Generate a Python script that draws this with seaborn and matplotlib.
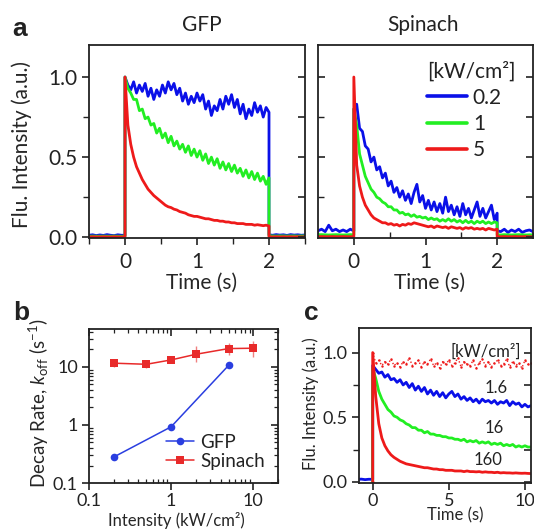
import numpy as np
import pandas as pd
import matplotlib
matplotlib.use("Agg")
import matplotlib.pyplot as plt
import seaborn as sns
from matplotlib.lines import Line2D
from matplotlib.ticker import MultipleLocator, FixedLocator, NullFormatter, LogLocator, FuncFormatter

# ---------------- data: panel a (time traces, s) ----------------
time_pre_a = np.round(np.arange(-0.5, 0.001, 0.05), 2)     # 11 pts, laser off
time_on_a = np.round(np.arange(0.0, 2.001, 0.04), 2)       # 51 pts, laser on
time_post_a = np.round(np.arange(2.0, 2.501, 0.05), 2)     # 11 pts, laser off
intensity_labels_a = ["0.2", "1", "5"]

gfp_pre = {
    "0.2": [0.012, 0.015, 0.010, 0.014, 0.011, 0.016, 0.012, 0.010, 0.015, 0.012, 0.012],
    "1":   [0.006, 0.007, 0.006, 0.006, 0.007, 0.006, 0.006, 0.007, 0.006, 0.006, 0.006],
    "5":   [0.002, 0.003, 0.002, 0.002, 0.003, 0.002, 0.002, 0.003, 0.002, 0.002, 0.002],
}
gfp_on = {
    "0.2": [1.00, 0.95, 0.92, 0.97, 0.90, 0.95, 0.91, 0.96, 0.88, 0.93,
            0.86, 0.92, 0.88, 0.95, 0.90, 0.97, 0.92, 0.96, 0.89, 0.93,
            0.85, 0.90, 0.83, 0.88, 0.84, 0.90, 0.85, 0.89, 0.80, 0.85,
            0.76, 0.82, 0.79, 0.86, 0.80, 0.88, 0.83, 0.89, 0.81, 0.86,
            0.77, 0.83, 0.74, 0.80, 0.76, 0.84, 0.78, 0.82, 0.75, 0.81,
            0.78],
    "1":   [1.00, 0.93, 0.90, 0.86, 0.86, 0.79, 0.80, 0.74, 0.75, 0.70,
            0.71, 0.65, 0.68, 0.62, 0.65, 0.59, 0.63, 0.57, 0.60, 0.55,
            0.58, 0.53, 0.57, 0.51, 0.55, 0.50, 0.54, 0.48, 0.52, 0.46,
            0.50, 0.45, 0.49, 0.43, 0.47, 0.42, 0.46, 0.41, 0.45, 0.40,
            0.43, 0.38, 0.42, 0.37, 0.41, 0.36, 0.40, 0.35, 0.38, 0.33,
            0.37],
    "5":   [1.00, 0.70, 0.58, 0.50, 0.44, 0.40, 0.36, 0.33, 0.30, 0.28,
            0.26, 0.245, 0.23, 0.215, 0.20, 0.19, 0.185, 0.175, 0.17, 0.16,
            0.155, 0.15, 0.14, 0.135, 0.13, 0.13, 0.125, 0.12, 0.115, 0.115,
            0.11, 0.105, 0.105, 0.10, 0.10, 0.095, 0.095, 0.09, 0.09, 0.085,
            0.085, 0.085, 0.08, 0.08, 0.08, 0.075, 0.078, 0.075, 0.072, 0.075,
            0.07],
}
gfp_post = {
    "0.2": [0.015, 0.012, 0.016, 0.013, 0.015, 0.011, 0.016, 0.013, 0.015, 0.012, 0.014],
    "1":   [0.008, 0.008, 0.007, 0.008, 0.008, 0.007, 0.008, 0.008, 0.007, 0.008, 0.008],
    "5":   [0.003, 0.002, 0.003, 0.002, 0.003, 0.002, 0.003, 0.002, 0.003, 0.002, 0.003],
}

spinach_pre = {
    "0.2": [0.040, 0.050, 0.035, 0.075, 0.040, 0.050, 0.035, 0.045, 0.035, 0.050, 0.040],
    "1":   [0.015, 0.016, 0.015, 0.014, 0.015, 0.016, 0.015, 0.014, 0.015, 0.016, 0.015],
    "5":   [0.003, 0.004, 0.003, 0.003, 0.004, 0.003, 0.003, 0.004, 0.003, 0.003, 0.003],
}
spinach_on = {
    "0.2": [0.80, 0.83, 0.68, 0.66, 0.57, 0.55, 0.47, 0.50, 0.42, 0.44,
            0.37, 0.40, 0.32, 0.35, 0.28, 0.31, 0.25, 0.29, 0.23, 0.27,
            0.21, 0.28, 0.33, 0.22, 0.26, 0.18, 0.23, 0.17, 0.22, 0.16,
            0.21, 0.15, 0.25, 0.16, 0.20, 0.14, 0.19, 0.13, 0.21, 0.14,
            0.18, 0.12, 0.17, 0.22, 0.13, 0.18, 0.12, 0.16, 0.20, 0.11,
            0.15],
    "1":   [0.80, 0.70, 0.52, 0.45, 0.38, 0.34, 0.30, 0.28, 0.25, 0.24,
            0.22, 0.21, 0.19, 0.19, 0.17, 0.17, 0.15, 0.155, 0.14, 0.145,
            0.13, 0.14, 0.125, 0.13, 0.12, 0.125, 0.11, 0.12, 0.11, 0.115,
            0.10, 0.11, 0.10, 0.115, 0.10, 0.11, 0.095, 0.105, 0.09, 0.105,
            0.09, 0.10, 0.085, 0.10, 0.09, 0.10, 0.085, 0.095, 0.085, 0.095,
            0.09],
    "5":   [1.00, 0.45, 0.32, 0.25, 0.20, 0.17, 0.14, 0.12, 0.11, 0.10,
            0.09, 0.09, 0.08, 0.085, 0.075, 0.08, 0.07, 0.08, 0.075, 0.085,
            0.08, 0.09, 0.085, 0.08, 0.075, 0.07, 0.065, 0.07, 0.06, 0.07,
            0.065, 0.06, 0.065, 0.055, 0.065, 0.06, 0.055, 0.06, 0.05, 0.06,
            0.055, 0.06, 0.05, 0.055, 0.05, 0.055, 0.045, 0.055, 0.05, 0.045,
            0.05],
}
spinach_post = {
    "0.2": [0.040, 0.035, 0.050, 0.030, 0.045, 0.035, 0.050, 0.030, 0.040, 0.045, 0.035],
    "1":   [0.015, 0.014, 0.016, 0.015, 0.014, 0.015, 0.016, 0.015, 0.014, 0.015, 0.015],
    "5":   [0.003, 0.003, 0.004, 0.003, 0.003, 0.004, 0.003, 0.003, 0.004, 0.003, 0.003],
}

# ---------------- data: panel b (decay rates) ----------------
intensity_gfp = [0.2, 1, 5]
rate_gfp = [0.28, 0.93, 10.6]
intensity_spinach = [0.2, 0.5, 1, 2, 5, 10]
rate_spinach = [11.6, 11.1, 13.2, 16.5, 20.7, 21.0]
rate_spinach_err_lo = [1.8, 1.5, 1.2, 4.5, 4.7, 6.0]
rate_spinach_err_hi = [2.0, 1.6, 1.3, 6.0, 5.5, 7.0]

# ---------------- data: panel c (Spinach, long illumination) ----------------
time_pre_c = [-1.0, -0.75, -0.5, -0.25, 0.0]
pre_c_blue = [0.020, 0.022, 0.018, 0.021, 0.020]
time_on_c = np.round(np.arange(0.0, 10.41, 0.2), 1)        # 53 pts
labels_c = ["dark", "1.6", "16", "160"]
trace_c = {
    "dark": [1.00, 0.92, 0.94, 0.90, 0.93, 0.91, 0.95, 0.90, 0.92, 0.89,
             0.93, 0.91, 0.96, 0.90, 0.92, 0.94, 0.89, 0.93, 0.91, 0.95,
             0.90, 0.92, 0.88, 0.93, 0.91, 0.94, 0.90, 0.92, 0.96, 0.89,
             0.93, 0.91, 0.90, 0.94, 0.88, 0.92, 0.95, 0.90, 0.93, 0.89,
             0.92, 0.94, 0.90, 0.91, 0.95, 0.89, 0.93, 0.90, 0.92, 0.88,
             0.94, 0.91, 0.92],
    "1.6":  [0.90, 0.87, 0.84, 0.85, 0.81, 0.83, 0.79, 0.80, 0.77, 0.79,
             0.75, 0.77, 0.73, 0.76, 0.71, 0.74, 0.70, 0.73, 0.68, 0.71,
             0.67, 0.70, 0.66, 0.69, 0.65, 0.68, 0.70, 0.66, 0.68, 0.64,
             0.66, 0.63, 0.65, 0.62, 0.64, 0.61, 0.64, 0.62, 0.63, 0.61,
             0.63, 0.60, 0.62, 0.61, 0.63, 0.59, 0.62, 0.60, 0.61, 0.58,
             0.60, 0.58, 0.59],
    "16":   [0.88, 0.80, 0.70, 0.64, 0.60, 0.56, 0.54, 0.51, 0.50, 0.48,
             0.47, 0.45, 0.44, 0.42, 0.42, 0.40, 0.40, 0.38, 0.39, 0.37,
             0.37, 0.36, 0.36, 0.35, 0.35, 0.34, 0.34, 0.33, 0.33, 0.32,
             0.33, 0.31, 0.32, 0.31, 0.32, 0.30, 0.31, 0.30, 0.31, 0.29,
             0.30, 0.29, 0.30, 0.28, 0.29, 0.28, 0.29, 0.27, 0.28, 0.27,
             0.28, 0.27, 0.27],
    "160":  [1.00, 0.66, 0.45, 0.34, 0.28, 0.24, 0.21, 0.19, 0.175, 0.16,
             0.15, 0.14, 0.135, 0.13, 0.125, 0.12, 0.115, 0.11, 0.11, 0.105,
             0.10, 0.10, 0.095, 0.095, 0.09, 0.09, 0.09, 0.085, 0.085, 0.085,
             0.08, 0.085, 0.08, 0.08, 0.078, 0.08, 0.075, 0.078, 0.075, 0.075,
             0.072, 0.075, 0.07, 0.072, 0.07, 0.07, 0.068, 0.07, 0.068, 0.067,
             0.068, 0.066, 0.065],
}

# ---------------- styling ----------------
BLUE = "#0a10e8"
GREEN = "#22ee22"
RED = "#ee1a1a"
colors_a = {"0.2": BLUE, "1": GREEN, "5": RED}

sns.set_theme(style="ticks")
plt.rcParams["font.family"] = ["Lato", "DejaVu Sans"]
plt.rcParams["mathtext.fontset"] = "custom"
plt.rcParams["mathtext.rm"] = "Lato"
plt.rcParams["mathtext.it"] = "Lato:italic"
plt.rcParams["mathtext.bf"] = "Lato:bold"
plt.rcParams["axes.linewidth"] = 1.3
plt.rcParams["axes.edgecolor"] = "#222222"
plt.rcParams["text.color"] = "#222222"
plt.rcParams["xtick.color"] = "#222222"
plt.rcParams["ytick.color"] = "#222222"

W, H = 534, 529
fig = plt.figure(figsize=(W / 100, H / 100), dpi=100)


def rect(l, t, r, b):
    return [l / W, 1 - b / H, (r - l) / W, (b - t) / H]


ax_g = fig.add_axes(rect(89, 45, 305, 238))
ax_s = fig.add_axes(rect(318, 45, 533, 238))
ax_b = fig.add_axes(rect(89, 329, 278, 483))
ax_c = fig.add_axes(rect(359, 328, 531, 483))

FS_A = 15
FS_BC = 13


def draw_trace(ax, t_parts, v_parts, color, lw=2.0, **kw):
    t = np.concatenate([np.asarray(p, float) for p in t_parts])
    v = np.concatenate([np.asarray(p, float) for p in v_parts])
    df = pd.DataFrame({"t": t, "v": v})
    sns.lineplot(data=df, x="t", y="v", ax=ax, color=color, lw=lw, sort=False,
                 estimator=None, legend=False, **kw)


def mirror(ax, right=True, top=False, yscale="linear", xscale="linear"):
    if right:
        axr = ax.twinx()
        axr.set_yscale(yscale)
        axr.set_ylim(ax.get_ylim())
        if yscale == "linear":
            axr.yaxis.set_major_locator(MultipleLocator(0.25))
        axr.tick_params(axis="y", direction="in", length=5, width=1.2, labelright=False)
        axr.tick_params(axis="y", which="minor", direction="in", length=3, width=0.9)
        for s in axr.spines.values():
            s.set_visible(False)
    if top:
        axt = ax.twiny()
        axt.set_xscale(xscale)
        axt.set_xlim(ax.get_xlim())
        axt.tick_params(axis="x", direction="in", length=5, width=1.2, labeltop=False)
        axt.tick_params(axis="x", which="minor", direction="in", length=3, width=0.9)
        for s in axt.spines.values():
            s.set_visible(False)


# ---------------- panel a ----------------
for ax, pre, on, post in [(ax_g, gfp_pre, gfp_on, gfp_post),
                          (ax_s, spinach_pre, spinach_on, spinach_post)]:
    for key in intensity_labels_a:
        draw_trace(ax, [time_pre_a, time_on_a, time_post_a],
                   [pre[key], on[key], post[key]], colors_a[key], lw=2.0)
    ax.set_xlim(-0.5, 2.5)
    ax.set_ylim(-0.005, 1.2)
    ax.xaxis.set_major_locator(FixedLocator([0, 1, 2]))
    ax.xaxis.set_minor_locator(MultipleLocator(0.5))
    ax.yaxis.set_major_locator(FixedLocator([0.0, 0.5, 1.0]))
    ax.yaxis.set_minor_locator(FixedLocator([0.25, 0.75]))
    ax.yaxis.set_major_formatter(FuncFormatter(lambda v, p: f"{v:.1f}"))
    ax.tick_params(axis="both", which="major", labelsize=FS_A, length=5, width=1.2, pad=3)
    ax.tick_params(axis="both", which="minor", length=4, width=1.0)
    ax.tick_params(axis="x", which="major", pad=5)
    ax.set_xlabel("Time (s)", fontsize=FS_A)
    ax.xaxis.set_label_coords(0.52, -0.18)
    ax.set_ylabel("")

ax_g.set_ylabel("Flu. Intensity (a.u.)", fontsize=FS_A)
ax_g.yaxis.set_label_coords(-0.265, 0.485)
ax_s.tick_params(axis="y", labelleft=False, direction="in")
ax_s.tick_params(axis="y", which="minor", direction="in")
ax_s.tick_params(axis="x", which="minor", direction="in")
mirror(ax_g)
mirror(ax_s)

fig.text(202 / W, 1 - 25 / H, "GFP", ha="center", va="center", fontsize=FS_A)
fig.text(423 / W, 1 - 25 / H, "Spinach", ha="center", va="center", fontsize=FS_A)

handles = [Line2D([], [], color=colors_a[k], lw=2.6) for k in intensity_labels_a]
leg = ax_s.legend(handles, intensity_labels_a, title="[kW/cm²]", loc="upper left",
                  bbox_to_anchor=(427 / W, 1 - 61 / H), bbox_transform=fig.transFigure,
                  frameon=False, fontsize=FS_A, title_fontsize=FS_A, handlelength=1.9,
                  handletextpad=0.3, labelspacing=0.3, borderpad=0, borderaxespad=0,
                  alignment="left")

# ---------------- panel b ----------------
ax_b.set_xscale("log")
ax_b.set_yscale("log")
df_gfp = pd.DataFrame({"x": intensity_gfp, "y": rate_gfp})
df_sp = pd.DataFrame({"x": intensity_spinach, "y": rate_spinach})
ax_b.errorbar(intensity_spinach, rate_spinach,
              yerr=[rate_spinach_err_lo, rate_spinach_err_hi],
              fmt="none", ecolor="#f08080", elinewidth=1.0, capsize=0, zorder=1)
sns.lineplot(data=df_gfp, x="x", y="y", ax=ax_b, color="#2a3ee0", lw=1.1,
             marker="o", markersize=5.5, markeredgewidth=0, label="GFP", sort=False,
             estimator=None)
sns.lineplot(data=df_sp, x="x", y="y", ax=ax_b, color="#e82a2a", lw=1.1,
             marker="s", markersize=5.5, markeredgewidth=0, label="Spinach", sort=False,
             estimator=None)
ax_b.set_xlim(0.1, 20)
ax_b.set_ylim(0.1, 45)
fmt_log = FuncFormatter(lambda v, p: {0.1: "0.1", 1: "1", 10: "10"}.get(round(v, 3), ""))
ax_b.xaxis.set_major_locator(FixedLocator([0.1, 1, 10]))
ax_b.yaxis.set_major_locator(FixedLocator([0.1, 1, 10]))
ax_b.xaxis.set_major_formatter(fmt_log)
ax_b.yaxis.set_major_formatter(fmt_log)
ax_b.xaxis.set_minor_locator(LogLocator(base=10, subs=np.arange(2, 10)))
ax_b.yaxis.set_minor_locator(LogLocator(base=10, subs=np.arange(2, 10)))
ax_b.xaxis.set_minor_formatter(NullFormatter())
ax_b.yaxis.set_minor_formatter(NullFormatter())
ax_b.tick_params(axis="both", which="major", labelsize=FS_BC, length=5, width=1.2, pad=3)
ax_b.tick_params(axis="both", which="minor", length=3, width=0.9, direction="in")
ax_b.tick_params(axis="x", which="major", pad=2)
ax_b.set_xlabel("Intensity (kW/cm²)", fontsize=12)
ax_b.xaxis.set_label_coords(0.46, -0.19)
ax_b.set_ylabel(r"Decay Rate, $k_{\mathrm{off}}$ (s$^{\mathrm{-1}}$)", fontsize=FS_BC + 0.5)
ax_b.yaxis.set_label_coords(-0.2, 0.52)
ax_b.legend(loc="lower right", frameon=False, fontsize=FS_BC + 0.5, handlelength=1.5,
            handletextpad=0.3, labelspacing=0.1, borderaxespad=0.3)
mirror(ax_b, right=True, top=True, yscale="log", xscale="log")

# ---------------- panel c ----------------
draw_trace(ax_c, [time_pre_c, time_on_c], [pre_c_blue, trace_c["1.6"]], BLUE, lw=2.0)
draw_trace(ax_c, [[0.0], time_on_c], [[0.0], trace_c["16"]], GREEN, lw=2.0)
draw_trace(ax_c, [[0.0], time_on_c], [[0.0], trace_c["160"]], RED, lw=2.0)
draw_trace(ax_c, [[0.0], time_on_c], [[0.0], trace_c["dark"]], RED, lw=1.0,
           linestyle=":", marker=".", markersize=3.5, markeredgewidth=0)
ax_c.set_xlim(-0.9, 10.4)
ax_c.set_ylim(-0.008, 1.19)
ax_c.xaxis.set_major_locator(FixedLocator([0, 5, 10]))
ax_c.yaxis.set_major_locator(FixedLocator([0.0, 0.5, 1.0]))
ax_c.yaxis.set_minor_locator(FixedLocator([0.25, 0.75]))
ax_c.yaxis.set_major_formatter(FuncFormatter(lambda v, p: f"{v:.1f}"))
ax_c.tick_params(axis="both", which="major", labelsize=FS_BC, length=5, width=1.2, pad=3)
ax_c.tick_params(axis="both", which="minor", length=4, width=1.0)
ax_c.tick_params(axis="x", which="major", pad=2)
ax_c.set_xlabel("Time (s)", fontsize=12)
ax_c.xaxis.set_label_coords(0.56, -0.16)
ax_c.set_ylabel("Flu. Intensity (a.u.)", fontsize=12)
ax_c.yaxis.set_label_coords(-0.235, 0.51)
mirror(ax_c)
ax_c.text(7.4, 1.01, "[kW/cm²]", ha="center", va="center", fontsize=12)
ax_c.text(8.1, 0.73, "1.6", ha="center", va="center", fontsize=12)
ax_c.text(8.0, 0.42, "16", ha="center", va="center", fontsize=12)
ax_c.text(7.6, 0.17, "160", ha="center", va="center", fontsize=12)

# panel letters
for lx, ly, s in [(20, 29, "a"), (21, 313, "b"), (311, 313, "c")]:
    fig.text(lx / W, 1 - ly / H, s, ha="center", va="center", fontsize=19,
             fontweight="bold", family=["Liberation Sans", "DejaVu Sans"])

fig.savefig("out.png", dpi=100)
